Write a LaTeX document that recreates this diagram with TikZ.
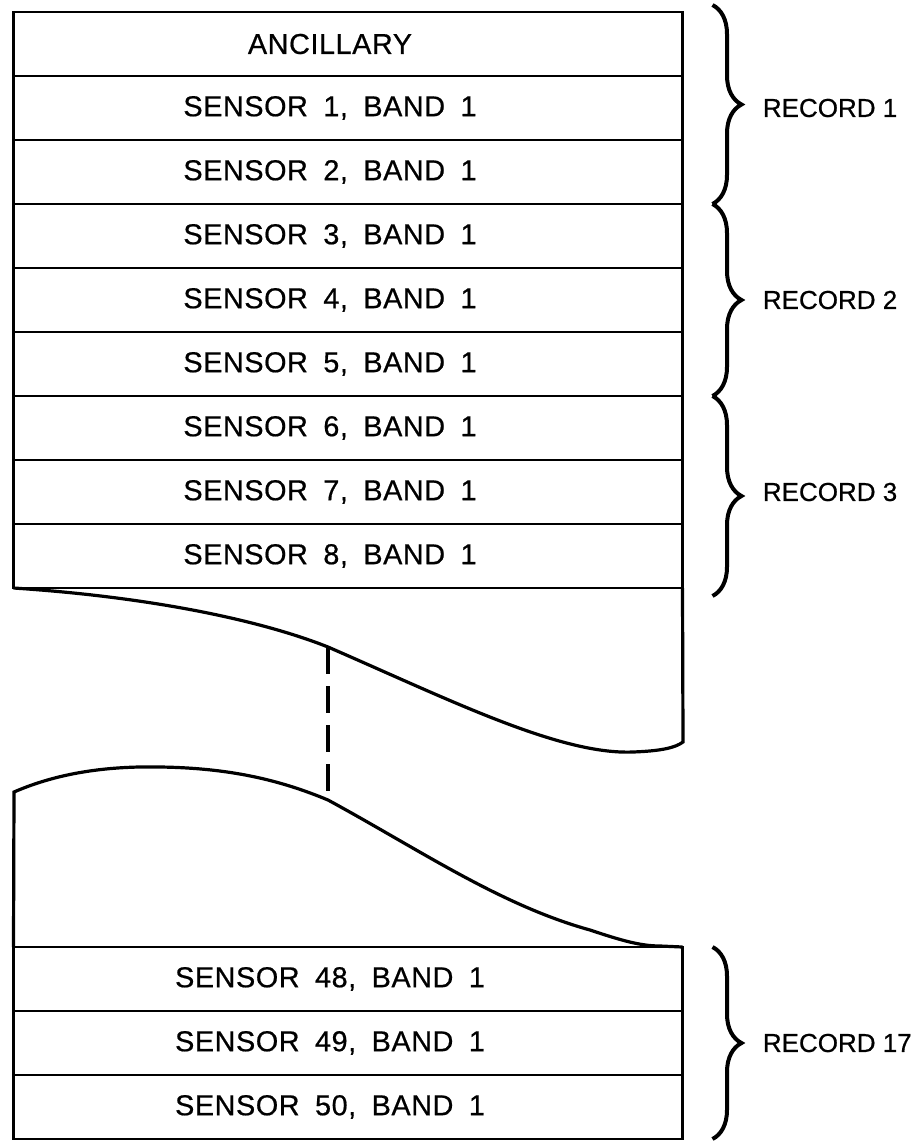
\documentclass[tikz,border=0pt]{standalone}
\usepackage{fontspec}
\setmainfont[FakeBold=0.6]{Liberation Sans}
\newfontfamily\cellfont[WordSpace=1.8, LetterSpace=2, FakeBold=0.6]{Liberation Sans}
\usetikzlibrary{decorations.pathreplacing,positioning}
\tikzset{
    cell/.style={draw, line width=1.4pt, minimum width=334.5pt, minimum height=32pt, inner sep=0pt, outer sep=0pt},
    celltext/.style={font=\cellfont\fontsize{14.4}{16}\selectfont, inner sep=0pt},
    recordbrace/.style={decorate, decoration={brace, amplitude=14.5pt}, line width=2pt},
    recordtext/.style={font=\fontsize{13}{15}\selectfont, anchor=west, inner sep=0pt},
    cutline/.style={line width=1.6pt}
}

\begin{document}
\begin{tikzpicture}[x=0.5pt, y=-0.5pt]
    \useasboundingbox (0,0) rectangle (917,1141);
    % first part of the file
    \node[cell] (s0) at (348,44) {};
    \node[celltext] (t0) at ([xshift=-9pt]s0.center) {ANCILLARY};
    \foreach \i in {1,...,8} {
        \node[cell] (s\i) at (348,{44+64*\i}) {};
        \node[celltext] (t\i) at ([xshift=-9pt]s\i.center) {SENSOR \i, BAND 1};
    }
    % last part of the file
    \foreach \i/\y in {48/979,49/1043,50/1107} {
        \node[cell] (s\i) at (348,\y) {};
        \node[celltext] (t\i) at ([xshift=-9pt]s\i.center) {SENSOR \i, BAND 1};
    }
    % torn edges
    \coordinate (upcut) at (328,647);
    \coordinate (uptear) at (683,742);
    \coordinate (lowcut) at (328,800);
    \coordinate (lowtear) at (14,792);
    \draw[cutline] (s8.south west) .. controls (150,597) and (260,620) .. (upcut)
        .. controls (450,700) and (560,755) .. (633,752)
        .. controls (660,751) and (675,748) .. (uptear) -- (s8.south east);
    \draw[cutline] (s48.north west) -- (lowtear) .. controls (60,772) and (110,766) .. (160,767)
        .. controls (230,768) and (280,780) .. (lowcut)
        .. controls (420,850) and (500,905) .. (590,930)
        .. controls (620,940) and (640,946) .. (660,946) -- (s48.north east);
    \draw[cutline, dash pattern=on 13.5pt off 6pt] (upcut) -- (lowcut);
    % records
    \draw[recordbrace] ([xshift=15pt,yshift=3.5pt]s0.north east) -- ([xshift=15pt]s2.south east);
    \draw[recordbrace] ([xshift=15pt]s3.north east) -- ([xshift=15pt]s5.south east);
    \draw[recordbrace] ([xshift=15pt]s6.north east) -- ([xshift=15pt,yshift=-4pt]s8.south east);
    \draw[recordbrace] ([xshift=15pt]s48.north east) -- ([xshift=15pt]s50.south east);
    \node[recordtext] (rec1) at ([xshift=40pt]s1.east) {RECORD 1};
    \node[recordtext] (rec2) at ([xshift=40pt]s4.east) {RECORD 2};
    \node[recordtext] (rec3) at ([xshift=40pt]s7.east) {RECORD 3};
    \node[recordtext] (rec17) at ([xshift=40pt]s49.east) {RECORD 17};
\end{tikzpicture}
\end{document}
